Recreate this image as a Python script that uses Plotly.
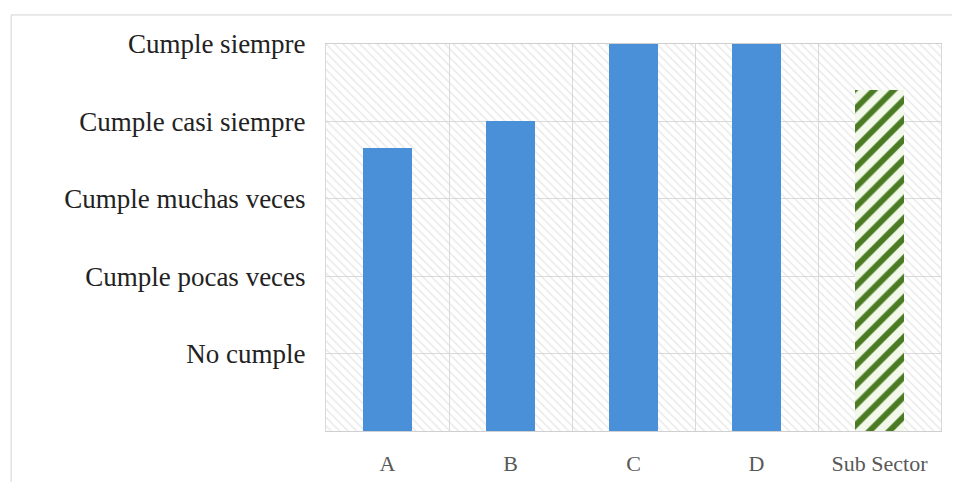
import plotly.graph_objects as go

categories = ["A", "B", "C", "D", "Sub Sector"]
values = [3.66, 4.0, 5.0, 5.0, 4.41]
level_values = [1, 2, 3, 4, 5]
level_labels = ["No cumple", "Cumple pocas veces", "Cumple muchas veces",
                "Cumple casi siempre", "Cumple siempre"]
scale_max = 5
highlight = "Sub Sector"

BLUE = "#4A90D9"
GREEN = "#4A7A22"
GRID = "#d9d9d9"

fig = go.Figure()

# hatched plot-area background
fig.add_trace(go.Bar(
    x=categories, y=[scale_max] * len(categories), width=1,
    marker=dict(color="rgba(0,0,0,0)", line=dict(width=0),
                pattern=dict(shape="\\", fgcolor="#d3d3d3", bgcolor="rgba(0,0,0,0)",
                             size=6, solidity=0.25)),
    hoverinfo="skip", showlegend=False,
))

main_x = [c for c in categories if c != highlight]
main_y = [v for c, v in zip(categories, values) if c != highlight]
sub_x = [c for c in categories if c == highlight]
sub_y = [v for c, v in zip(categories, values) if c == highlight]

fig.add_trace(go.Bar(
    x=main_x, y=main_y, width=0.4,
    marker=dict(color=BLUE, line=dict(width=0)),
    showlegend=False,
))
fig.add_trace(go.Bar(
    x=sub_x, y=sub_y, width=0.4,
    marker=dict(
        color="#f2f8ea", line=dict(width=0),
        pattern=dict(shape="/", fillmode="replace", fgcolor=GREEN, fgopacity=1,
                     bgcolor="#f2f8ea", size=14, solidity=0.42),
    ),
    showlegend=False,
))

# page body has an 8px margin: figure is placed at (8, 8)
fig.update_layout(
    width=952, height=474,
    margin=dict(l=318, r=19, t=36, b=51, autoexpand=False),
    paper_bgcolor="white", plot_bgcolor="white",
    barmode="overlay", bargap=0,
    shapes=[dict(type="rect", xref="paper", yref="paper",
                 x0=-0.512, x1=1.2, y0=-0.3, y1=1.075,
                 line=dict(color="#d4d4d4", width=1), layer="below")],
)
fig.update_xaxes(
    type="category", categoryorder="array", categoryarray=categories,
    tickson="boundaries", automargin=False,
    showgrid=True, gridcolor=GRID, gridwidth=1,
    showline=True, linecolor="#cfcfcf", mirror=True,
    ticks="", ticklabelstandoff=13,
    tickfont=dict(family="Liberation Serif", size=22, color="#595959"),
)
fig.update_yaxes(
    range=[0, scale_max], tickvals=level_values, ticktext=level_labels,
    automargin=False,
    showgrid=True, gridcolor=GRID, gridwidth=1, zeroline=False,
    showline=True, linecolor=GRID, mirror=True,
    ticks="", ticklabelstandoff=14,
    tickfont=dict(family="Liberation Serif", size=27, color="#222222"),
)

fig.write_html("out.html")
